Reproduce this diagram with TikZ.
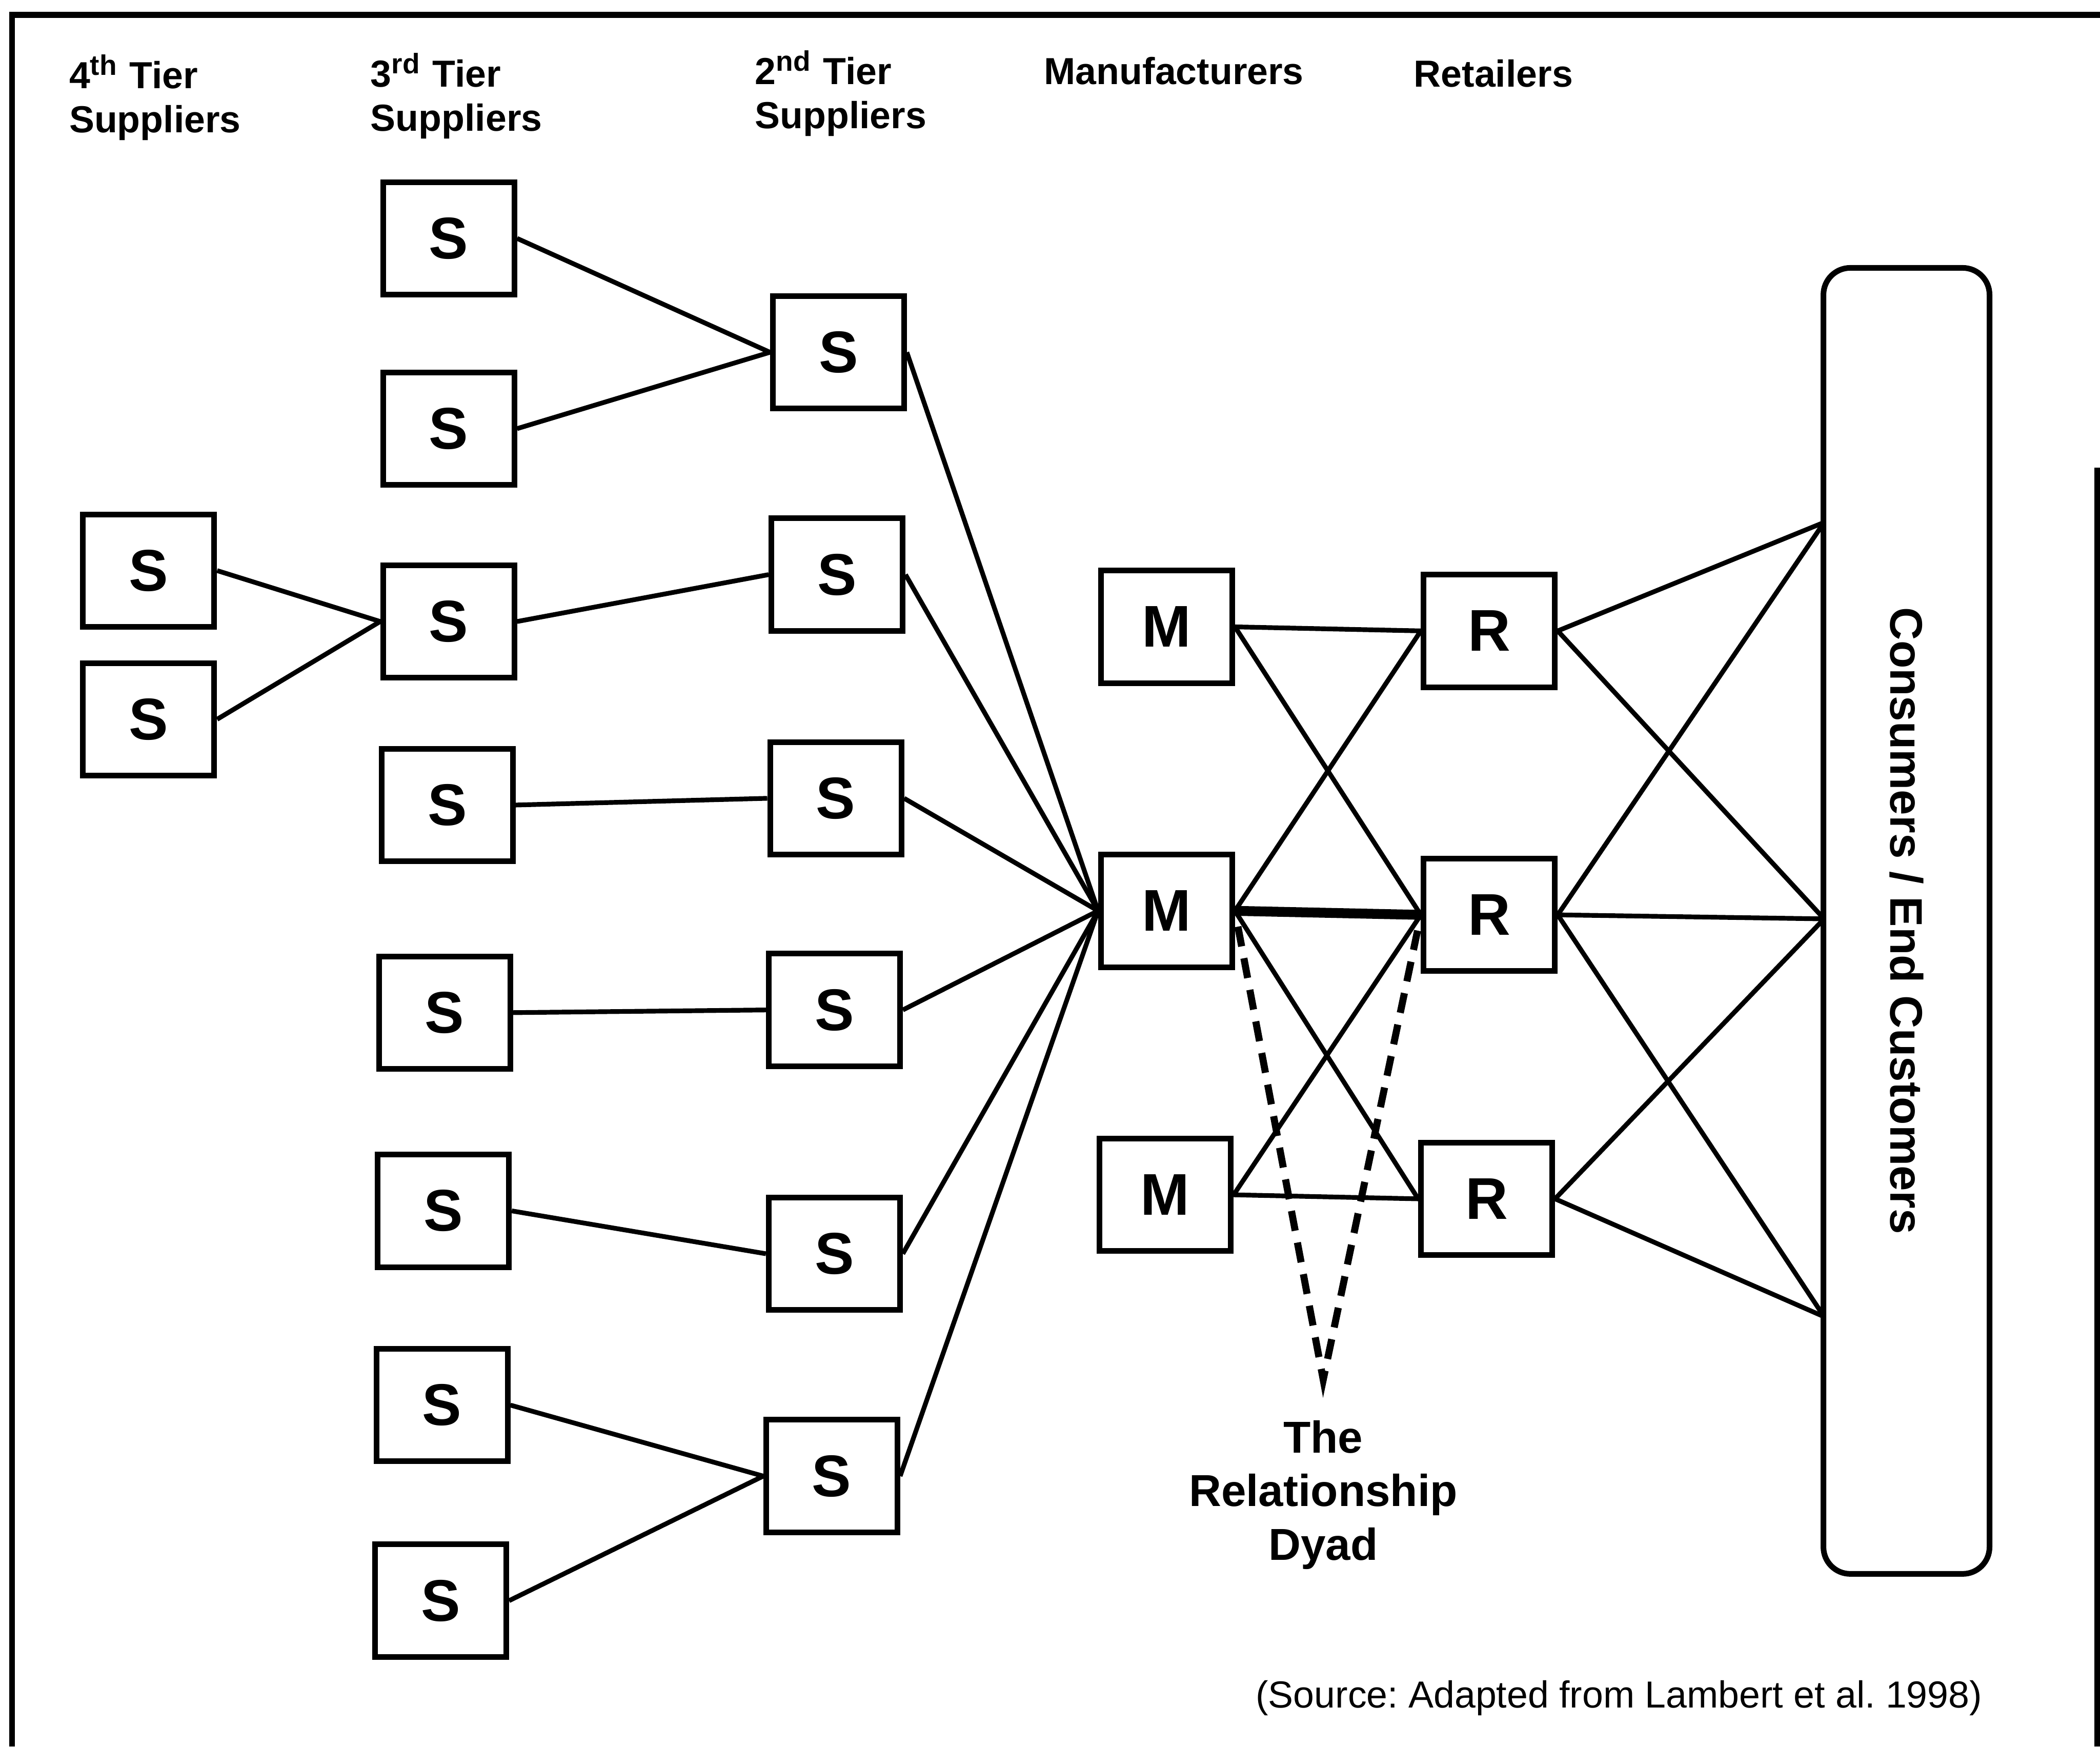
\documentclass[tikz,border=0pt]{standalone}
\usepackage{fontspec}
\setmainfont{Liberation Sans}
\frenchspacing

\begin{document}
\begin{tikzpicture}[
  x=0.1mm, y=-0.1mm,
  firm/.style={draw, line width=1.2pt, minimum width=9.8mm, minimum height=8.4mm, inner sep=0pt, font=\bfseries\fontsize{12.5}{15}\selectfont},
  head/.style={anchor=north west, align=left, inner sep=0pt, font=\bfseries\fontsize{8}{9.4}\selectfont},
  link/.style={line width=1pt},
  dyad/.style={line width=1.5pt, dash pattern=on 1.5mm off 0.9mm, shorten <=1.2mm},
  frame/.style={line width=1.3pt}
]
\useasboundingbox (0,0) rectangle (1568,1304);
\draw[frame] (9,1304) -- (9,11) -- (1568,11);
\draw[frame] (1566,349) -- (1566,1304);

% column headings
\node[head] (h4) at (51,40) {4\textsuperscript{th} Tier\\Suppliers};
\node[head] (h3) at (276,39) {3\textsuperscript{rd} Tier\\Suppliers};
\node[head] (h2) at (563,37) {2\textsuperscript{nd} Tier\\Suppliers};
\node[head, anchor=base west] (hm) at (779,63) {Manufacturers};
\node[head, anchor=base west] (hr) at (1055,65) {Retailers};

% 4th tier
\node[firm] (s4a) at (111,426) {S};
\node[firm] (s4b) at (111,537) {S};
% 3rd tier
\node[firm] (s3a) at (335,178) {S};
\node[firm] (s3b) at (335,320) {S};
\node[firm] (s3c) at (335,464) {S};
\node[firm] (s3d) at (334,601) {S};
\node[firm] (s3e) at (332,756) {S};
\node[firm] (s3f) at (331,904) {S};
\node[firm] (s3g) at (330,1049) {S};
\node[firm] (s3h) at (329,1195) {S};
% 2nd tier
\node[firm] (s2a) at (626,263) {S};
\node[firm] (s2b) at (625,429) {S};
\node[firm] (s2c) at (624,596) {S};
\node[firm] (s2d) at (623,754) {S};
\node[firm] (s2e) at (623,936) {S};
\node[firm] (s2f) at (621,1102) {S};
% manufacturers and retailers
\node[firm] (m1) at (871,468) {M};
\node[firm] (m2) at (871,680) {M};
\node[firm] (m3) at (870,892) {M};
\node[firm] (r1) at (1112,471) {R};
\node[firm] (r2) at (1112,683) {R};
\node[firm] (r3) at (1110,895) {R};

% end customers
\node[draw, line width=1.2pt, rounded corners=2mm, rotate=-90, minimum width=97.5mm, minimum height=12.4mm,
  font=\bfseries\fontsize{9.7}{11}\selectfont] (cons) at (1423.5,687.5) {Consumers / End Customers};
\coordinate (c1) at (1362,390);
\coordinate (c2) at (1362,686);
\coordinate (c3) at (1362,983);

% supplier links
\draw[link] (s4a.east) -- (s3c.west);
\draw[link] (s4b.east) -- (s3c.west);
\draw[link] (s3a.east) -- (s2a.west);
\draw[link] (s3b.east) -- (s2a.west);
\draw[link] (s3c.east) -- (s2b.west);
\draw[link] (s3d.east) -- (s2c.west);
\draw[link] (s3e.east) -- (s2d.west);
\draw[link] (s3f.east) -- (s2e.west);
\draw[link] (s3g.east) -- (s2f.west);
\draw[link] (s3h.east) -- (s2f.west);
\draw[link] (s2a.east) -- (m2.west);
\draw[link] (s2b.east) -- (m2.west);
\draw[link] (s2c.east) -- (m2.west);
\draw[link] (s2d.east) -- (m2.west);
\draw[link] (s2e.east) -- (m2.west);
\draw[link] (s2f.east) -- (m2.west);

% manufacturer - retailer links
\draw[link] (m1.east) -- (r1.west);
\draw[link] (m1.east) -- (r2.west);
\draw[link] (m2.east) -- (r1.west);
\draw[line width=2.1pt] (m2.east) -- (r2.west);
\draw[link] (m2.east) -- (r3.west);
\draw[link] (m3.east) -- (r2.west);
\draw[link] (m3.east) -- (r3.west);

% retailer - customer links
\draw[link] (r1.east) -- (c1);
\draw[link] (r1.east) -- (c2);
\draw[link] (r2.east) -- (c1);
\draw[link] (r2.east) -- (c2);
\draw[link] (r2.east) -- (c3);
\draw[link] (r3.east) -- (c2);
\draw[link] (r3.east) -- (c3);

% the dyad
\coordinate (apex) at (988,1030);
\draw[dyad, line join=miter, shorten >=1.2mm] (m2.east) -- (apex) -- (r2.west);
\node[align=center, font=\bfseries\fontsize{9.5}{11.4}\selectfont] (dyadtxt) at (988,1116) {The\\Relationship\\Dyad};

\node[anchor=base west, inner sep=0pt, font=\fontsize{8}{9.6}\selectfont] (src) at (937,1275) {(Source: Adapted from Lambert et al. 1998)};
\end{tikzpicture}
\end{document}
